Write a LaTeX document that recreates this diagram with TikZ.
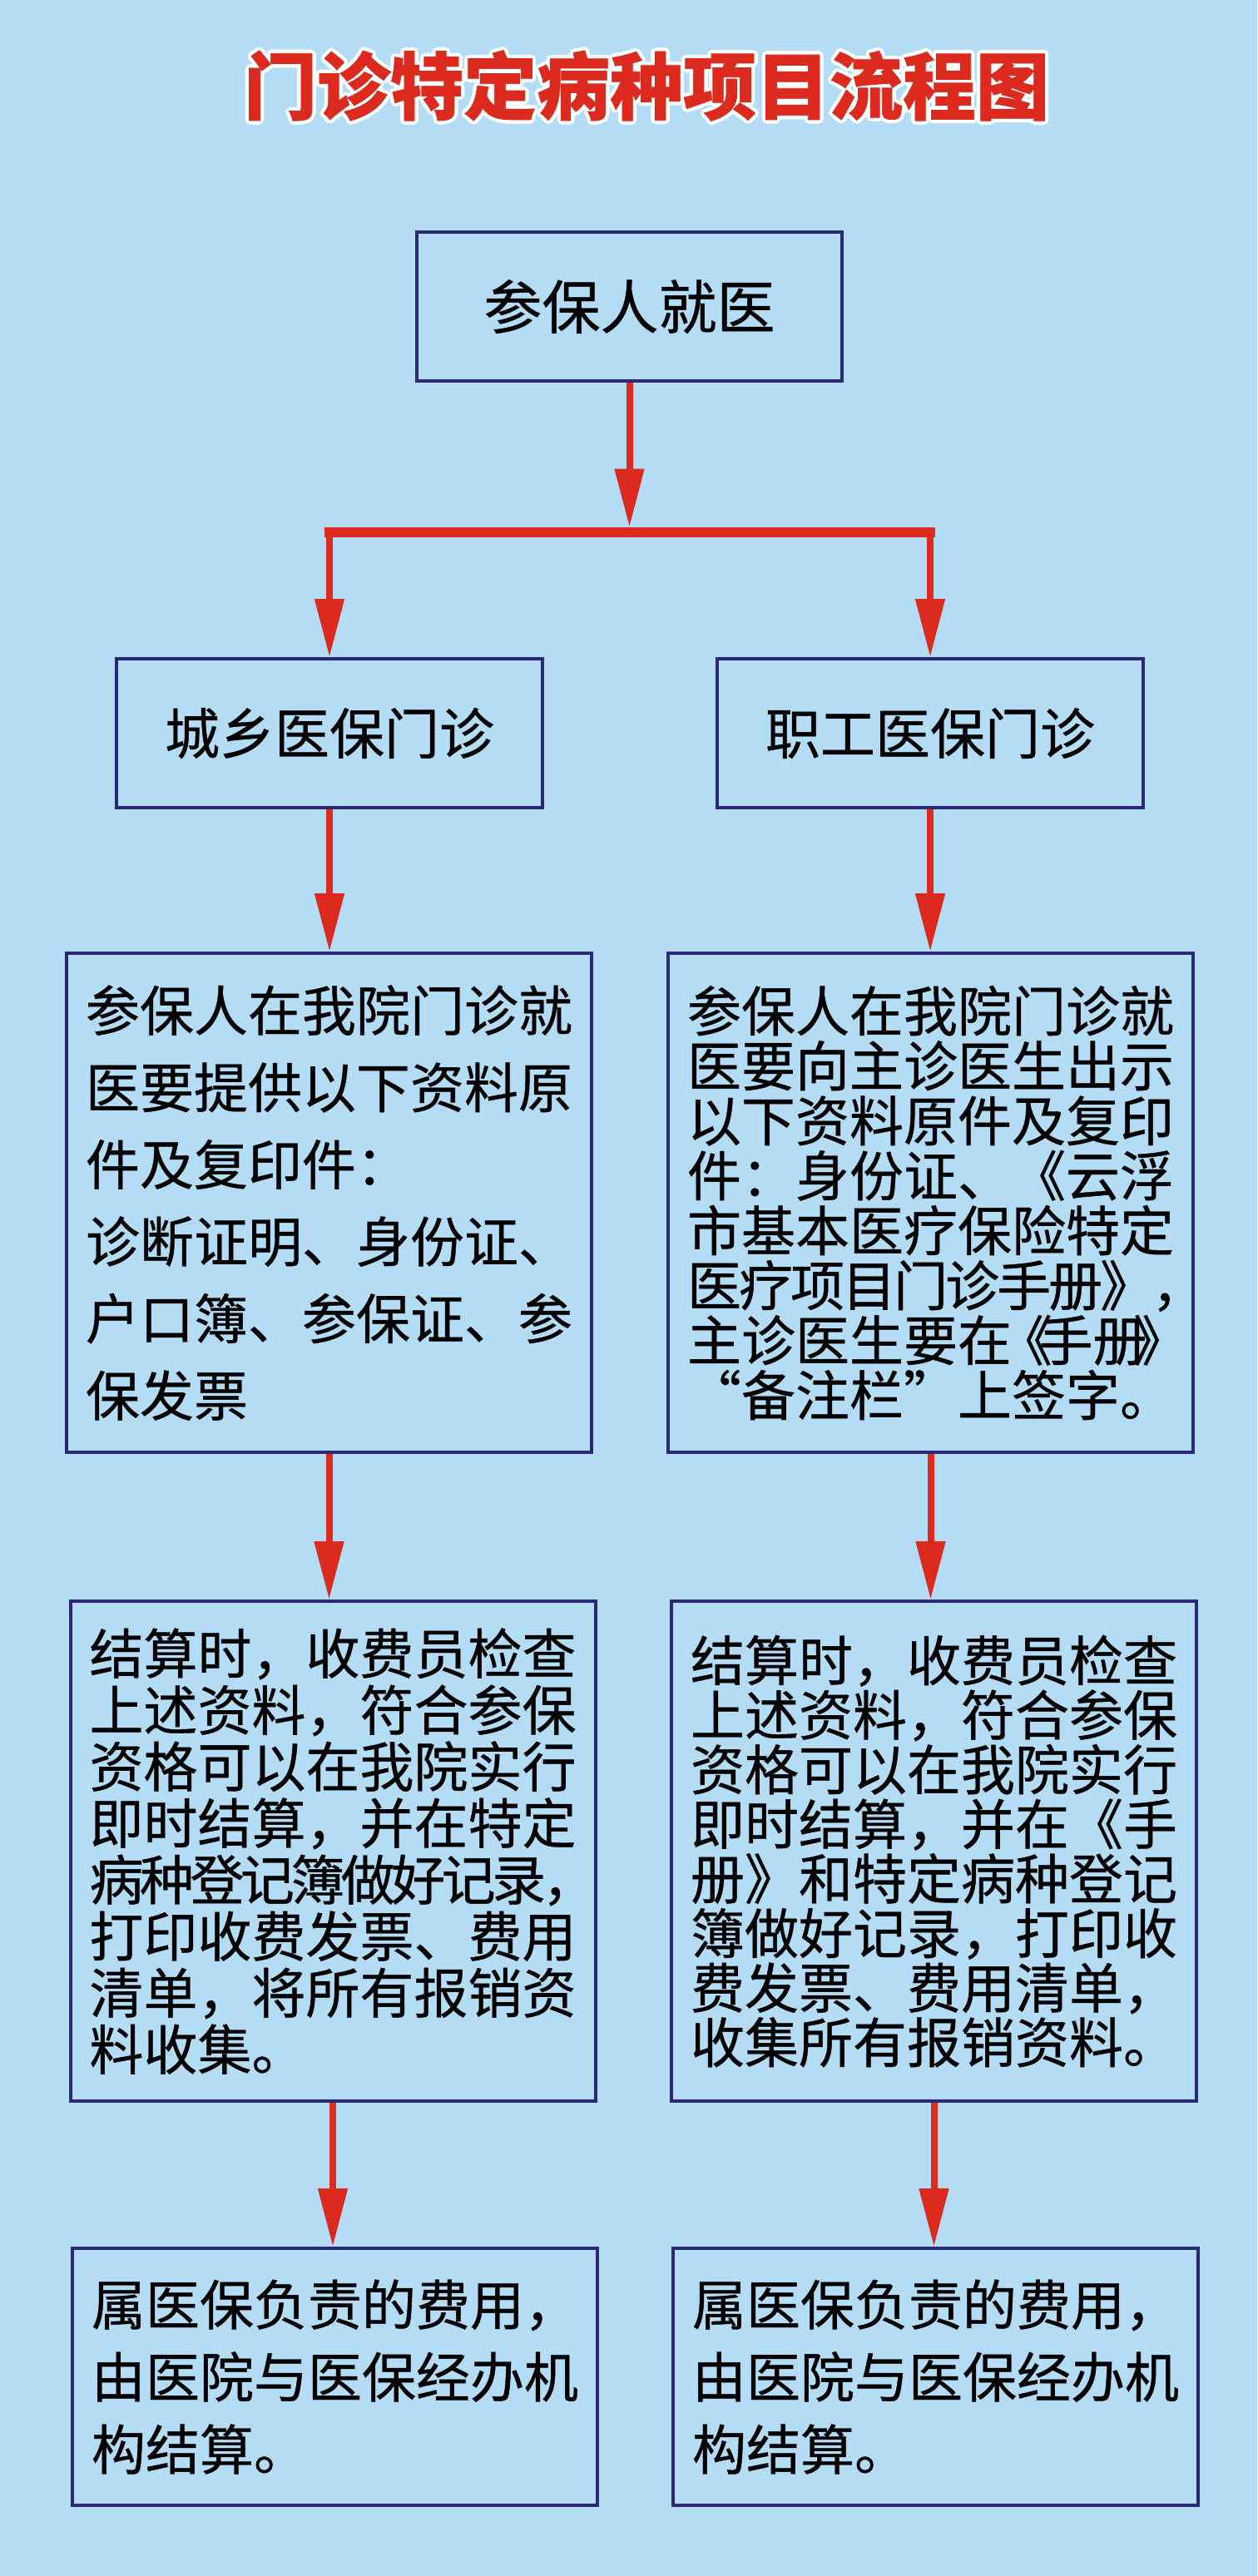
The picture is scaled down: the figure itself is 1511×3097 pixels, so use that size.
\documentclass[tikz,border=0pt]{standalone}
\usepackage{fontspec}
\usepackage{xcolor}
\usepackage{tikz}
\usetikzlibrary{arrows.meta}
\newfontfamily\cjk[CharacterWidth=Full,UprightFeatures={FakeBold=0.6},BoldFeatures={FakeBold=0.8}]{Noto Sans CJK SC}
\definecolor{skyblue}{HTML}{B4DDF5}
\definecolor{flowred}{HTML}{DC2A1E}
\definecolor{boxnavy}{HTML}{2B2878}
\newcommand{\shuL}{\makebox[0.5em][c]{《}}
\newcommand{\shuR}{\makebox[0.5em][c]{》}}

\begin{document}
\begin{tikzpicture}[x=0.25pt,y=-0.25pt,
    heading/.style={text=flowred,inner sep=0pt,font=\cjk\bfseries\fontsize{22pt}{22pt}\selectfont},
    box/.style={draw=boxnavy,line width=1pt,inner sep=0pt,align=left},
    small/.style={box,minimum width=128pt,minimum height=44.75pt,align=center},
    wide/.style={box,minimum width=157.75pt,text width=146.25pt},
    link/.style={draw=flowred,line width=2pt,-{Triangle[length=17.5pt,width=8.5pt]}},
    bar/.style={draw=flowred,line width=3pt,line cap=rect}]
    \fill[skyblue] (0,0) rectangle (1511,3097);
    % title with white rim
    \coordinate (titlepos) at (777,103);
    \foreach \a in {0,45,...,315}
      \node[heading,text=white] (halo\a) at ([shift={(\a:1.1pt)}]titlepos) {门诊特定病种项目流程图};
    \node[heading] (title) at (titlepos) {门诊特定病种项目流程图};
    % boxes
    \node[small,minimum width=127.75pt,font=\cjk\fontsize{17.5pt}{17.5pt}\selectfont] (start) at (756.5,368.5) {参保人就医};
    \node[small,font=\cjk\fontsize{16.5pt}{16.5pt}\selectfont] (cityL) at (396,881.5) {城乡医保门诊};
    \node[small,font=\cjk\fontsize{16.5pt}{16.5pt}\selectfont] (staffR) at (1118,881.5) {职工医保门诊};
    \node[wide,minimum height=150pt,font=\cjk\fontsize{16.25pt}{23.15pt}\selectfont] (docsL) at (395.5,1446) {参保人在我院门诊就\\医要提供以下资料原\\件及复印件：\\诊断证明、身份证、\\户口簿、参保证、参\\保发票};
    \node[wide,minimum height=150pt,font=\cjk\fontsize{16.25pt}{16.5pt}\selectfont] (docsR) at (1118.5,1446) {参保人在我院门诊就\\医要向主诊医生出示\\以下资料原件及复印\\件：身份证、《云浮\\市基本医疗保险特定\\{\addfontfeature{LetterSpace=-4.6}医疗项目门诊手册》，}\\主诊医生要在\shuL 手册\shuR\\“备注栏”上签字。};
    \node[wide,minimum height=150.25pt,font=\cjk\fontsize{16.25pt}{17pt}\selectfont] (payL) at (400,2225.5) {结算时，收费员检查\\上述资料，符合参保\\资格可以在我院实行\\即时结算，并在特定\\{\addfontfeature{LetterSpace=-7}病种登记簿做好记录，}\\打印收费发票、费用\\清单，将所有报销资\\料收集。};
    \node[wide,minimum height=150.25pt,font=\cjk\fontsize{16.25pt}{16.4pt}\selectfont] (payR) at (1122.5,2225.5) {结算时，收费员检查\\上述资料，符合参保\\资格可以在我院实行\\即时结算，并在《手\\册》和特定病种登记\\簿做好记录，打印收\\费发票、费用清单，\\收集所有报销资料。};
    \node[wide,minimum height=77.25pt,font=\cjk\fontsize{16.25pt}{21.75pt}\selectfont] (settleL) at (402.5,2857.5) {属医保负责的费用，\\由医院与医保经办机\\构结算。};
    \node[wide,minimum height=77.25pt,font=\cjk\fontsize{16.25pt}{21.75pt}\selectfont] (settleR) at (1124.5,2857.5) {属医保负责的费用，\\由医院与医保经办机\\构结算。};
    % connectors
    \coordinate (split) at (756.5,639.5);
    \draw[link] (start.south) -- ([yshift=1.5pt]split);
    \draw[bar] (cityL.north |- split) -- (staffR.north |- split);
    \draw[link] (cityL.north |- split) -- (cityL.north);
    \draw[link] (staffR.north |- split) -- (staffR.north);
    \draw[link] (cityL.south) -- (cityL.south |- docsL.north);
    \draw[link] (staffR.south) -- (staffR.south |- docsR.north);
    \draw[link] (docsL.south) -- (docsL.south |- payL.north);
    \draw[link] (docsR.south) -- (docsR.south |- payR.north);
    \draw[link] (payL.south) -- (payL.south |- settleL.north);
    \draw[link] (payR.south) -- (payR.south |- settleR.north);
\end{tikzpicture}
\end{document}
